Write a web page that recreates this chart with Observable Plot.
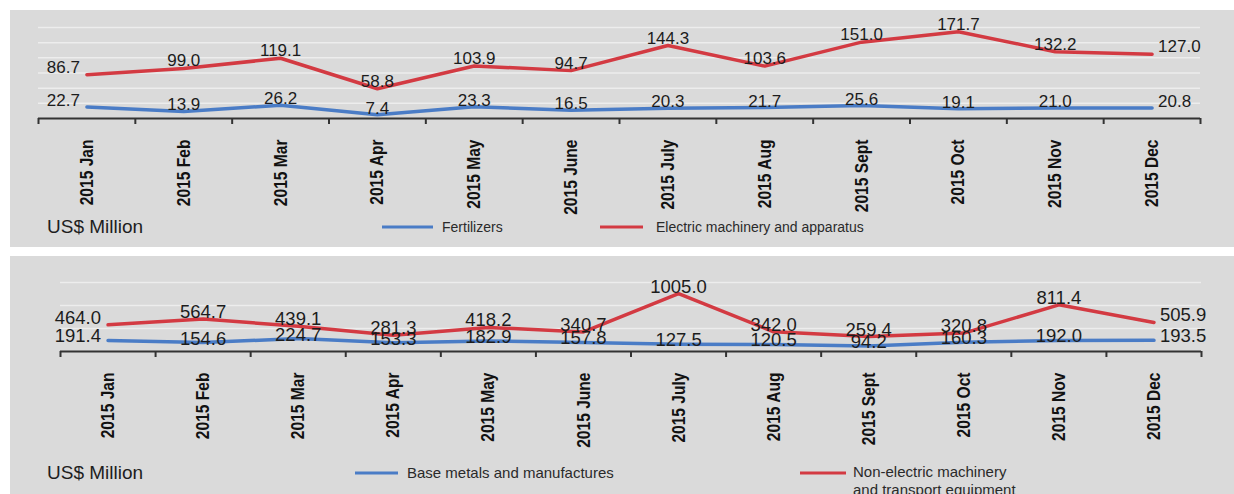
<!DOCTYPE html>
<html>
<head>
<meta charset="utf-8">
<script src="https://cdn.jsdelivr.net/npm/d3@7"></script>
<script src="https://cdn.jsdelivr.net/npm/@observablehq/plot@0.6"></script>
<style>
  html, body { margin: 0; padding: 0; background: #fff; width: 1234px; height: 494px; overflow: hidden; }
  .panel { position: absolute; left: 10px; width: 1224px; background: #dadada; overflow: hidden; font-family: "Liberation Sans", Arial, sans-serif; color: #1e1e1e; }
  .panel svg { position: absolute; left: 0; top: 0; }
  .unit { position: absolute; left: 37px; font-size: 19px; line-height: 1; transform: translateY(-50%); }
  .sw { position: absolute; height: 3px; transform: translateY(-50%); }
  .lt { position: absolute; font-size: 14px; line-height: 1.2; color: #2a2a2a; transform: translateY(-50%); white-space: nowrap; }
</style>
</head>
<body>
<div id="p1" class="panel" style="top:10px;height:237px;"></div>
<div id="p2" class="panel" style="top:256px;height:238px;"></div>
<script>
// ---- data ----
const months = ["2015 Jan","2015 Feb","2015 Mar","2015 Apr","2015 May","2015 June","2015 July","2015 Aug","2015 Sept","2015 Oct","2015 Nov","2015 Dec"];
const fertilizers = [22.7, 13.9, 26.2, 7.4, 23.3, 16.5, 20.3, 21.7, 25.6, 19.1, 21.0, 20.8];
const electricMachinery = [86.7, 99.0, 119.1, 58.8, 103.9, 94.7, 144.3, 103.6, 151.0, 171.7, 132.2, 127.0];
const baseMetals = [191.4, 154.6, 224.7, 153.3, 182.9, 157.8, 127.5, 120.5, 94.2, 160.3, 192.0, 193.5];
const nonElectricMachinery = [464.0, 564.7, 439.1, 281.3, 418.2, 340.7, 1005.0, 342.0, 259.4, 320.8, 811.4, 505.9];
const topGrid = [30, 60, 90, 120, 150, 180];
const bottomGrid = [400, 800, 1200];
const unitLabel = "US$ Million";

const RED = "#d33a42";
const BLUE = "#4a7cc6";
const LABEL_FONT = "'Liberation Sans', Arial, sans-serif";
const TICK_FONT = "'Liberation Sans', Arial, sans-serif";

function rowsOf(values) {
  return values.map((v, i) => ({i, m: months[i], pos: i + 0.5, v}));
}

function labelMarks(values, fontSize, lineAnchor, dy) {
  const rows = rowsOf(values);
  const n = rows.length;
  const base = {x: "pos", y: "v", text: d => d.v.toFixed(1), fill: "#1c1c1c", fontSize, fontFamily: LABEL_FONT, lineAnchor, dy};
  return [
    Plot.text(rows, {...base, filter: d => d.i > 0 && d.i < n - 1, textAnchor: "middle"}),
    Plot.text(rows, {...base, filter: d => d.i === 0, textAnchor: "end", dx: -7}),
    Plot.text(rows, {...base, filter: d => d.i === n - 1, textAnchor: "start", dx: 6})
  ];
}

function lineMark(values, color) {
  return Plot.line(rowsOf(values), {x: "pos", y: "v", stroke: color, strokeWidth: 3.5, strokeLinejoin: "round"});
}

function axisMarks(tickPadding) {
  return [
    Plot.ruleY([0], {stroke: "#333", strokeWidth: 2}),
    Plot.axisX({ticks: d3.range(months.length + 1), tickFormat: () => "", tickSize: 6, stroke: "#333", strokeWidth: 2, label: null}),
    Plot.axisX({ticks: months.map((m, i) => i + 0.5), tickFormat: t => months[Math.floor(t)], tickSize: 0, tickPadding, tickRotate: -90,
      fontSize: 19, fontWeight: "bold", fontFamily: TICK_FONT, fill: "#111", label: null})
  ];
}

function condenseTickLabels(svg) {
  svg.querySelectorAll("text").forEach(t => {
    const tr = t.getAttribute("transform") || "";
    if (tr.includes("rotate(-90)")) t.setAttribute("transform", tr + " scale(0.82,1)");
  });
}

// ---- top panel ----
const chart1 = Plot.plot({
  width: 1224, height: 208,
  marginLeft: 28, marginRight: 34, marginTop: 17, marginBottom: 100,
  style: {background: "transparent", overflow: "visible"},
  x: {type: "linear", domain: [0, months.length], axis: null},
  y: {domain: [0, 180], axis: null},
  marks: [
    Plot.ruleY(topGrid, {stroke: "#fff", strokeOpacity: 0.5, strokeWidth: 1.5}),
    lineMark(fertilizers, BLUE),
    lineMark(electricMachinery, RED),
    ...axisMarks(21),
    ...labelMarks(fertilizers, 17, "bottom", -1),
    ...labelMarks(electricMachinery, 17, "bottom", -2)
  ]
});
condenseTickLabels(chart1);
document.getElementById("p1").append(chart1);

// ---- bottom panel ----
const chart2 = Plot.plot({
  width: 1224, height: 190,
  marginLeft: 50, marginRight: 33, marginTop: 26, marginBottom: 95,
  style: {background: "transparent", overflow: "visible"},
  x: {type: "linear", domain: [0, months.length], axis: null},
  y: {domain: [0, 1200], axis: null},
  marks: [
    Plot.ruleY(bottomGrid, {stroke: "#fff", strokeOpacity: 0.5, strokeWidth: 1.5}),
    lineMark(baseMetals, BLUE),
    lineMark(nonElectricMachinery, RED),
    ...axisMarks(21),
    ...labelMarks(baseMetals, 18.5, "middle", -4),
    ...labelMarks(nonElectricMachinery, 18.5, "bottom", -1)
  ]
});
condenseTickLabels(chart2);
document.getElementById("p2").append(chart2);

// ---- legends ----
function addLegend(panelId, y, items, fontSize) {
  const p = document.getElementById(panelId);
  const u = document.createElement("div");
  u.className = "unit"; u.style.top = (y - 1) + "px"; u.textContent = unitLabel;
  p.append(u);
  for (const it of items) {
    const s = document.createElement("div");
    s.className = "sw"; s.style.left = it.x0 + "px"; s.style.width = (it.x1 - it.x0) + "px"; s.style.top = y + "px"; s.style.background = it.color;
    p.append(s);
    const t = document.createElement("div");
    t.className = "lt"; t.style.left = it.tx + "px"; t.style.top = (y + (it.shift || 0)) + "px"; t.style.fontSize = fontSize + "px";
    t.innerHTML = it.label;
    p.append(t);
  }
}
addLegend("p1", 217, [
  {x0: 372, x1: 423, tx: 432, color: BLUE, label: "Fertilizers"},
  {x0: 590, x1: 633, tx: 646, color: RED, label: "Electric machinery and apparatus"}
], 14);
addLegend("p2", 217, [
  {x0: 345, x1: 388, tx: 397, color: BLUE, label: "Base metals and manufactures"},
  {x0: 790, x1: 836, tx: 843, color: RED, label: "Non-electric machinery<br>and transport equipment", shift: 8}
], 15);
</script>
</body>
</html>
